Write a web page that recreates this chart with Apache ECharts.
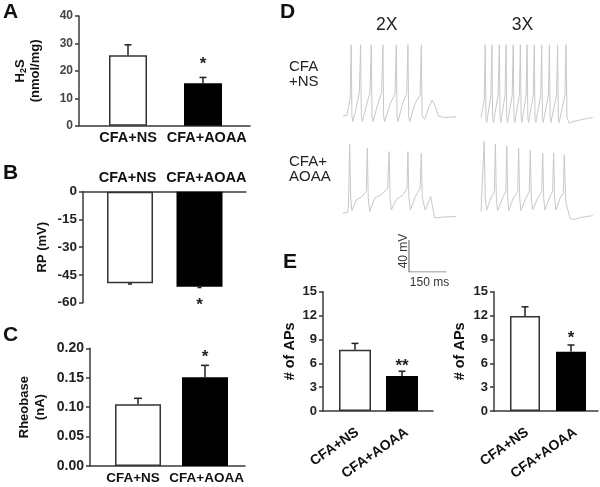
<!DOCTYPE html>
<html><head><meta charset="utf-8">
<script src="https://cdn.jsdelivr.net/npm/echarts@6/dist/echarts.min.js"></script>
<style>html,body{margin:0;padding:0;background:#fff}#c{width:600px;height:487px}</style>
</head><body><div id="c"></div>
<script>
// ---------- data ----------
const categories = ['CFA+NS', 'CFA+AOAA'];
// A: H2S (nmol/mg)
const h2sValues = [25.7, 15.5];
const h2sErrors = [3.8, 2.1];
const h2sSig = ['', '*'];
const h2sTicks = [0, 40, 10];
// B: RP (mV)
const rpValues = [-49.5, -51.4];
const rpErrors = [0.4, 0.4];
const rpSig = ['', '*'];
const rpTicks = [-60, 0, 15];
// C: Rheobase (nA)
const rheoValues = [0.105, 0.151];
const rheoErrors = [0.010, 0.020];
const rheoSig = ['', '*'];
const rheoTicks = [0, 0.2, 0.05];
// E: # of APs at 2X and 3X
const aps2xValues = [7.7, 4.4];
const aps2xErrors = [0.8, 0.6];
const aps2xSig = ['', '**'];
const aps3xValues = [11.95, 7.45];
const aps3xErrors = [1.15, 0.85];
const aps3xSig = ['', '*'];
const apsTicks = [0, 15, 3];
// D: voltage traces, [time ms, membrane potential mV]
const trace2xNS = [[0,-60],[16,-59],[22,-57],[29,-38],[33,29],[36,-60],[40,-67],[52,-52],[66,-30],[71,29],[74,-60],[78,-67],[92,-50],[109,-30],[114,29],[117,-60],[121,-67],[138,-48],[156,-30],[161,29],[164,-60],[168,-67],[190,-45],[210,-32],[215,29],[218,-60],[222,-67],[240,-45],[257,-32],[262,29],[265,-60],[269,-67],[290,-45],[311,-34],[316,29],[319,-60],[330,-64],[345,-50],[360,-40],[372,-48],[385,-60],[410,-62],[456,-61]];
const trace3xNS = [[0,-62],[8,-61],[13,-40],[17,29],[20,-62],[23,-68],[40,-34],[44,29],[47,-62],[50,-68],[69,-34],[74,29],[77,-62],[80,-68],[97,-34],[101,29],[104,-62],[107,-68],[126,-34],[130,29],[133,-62],[136,-68],[155,-34],[159,29],[162,-62],[165,-68],[182,-34],[186,29],[189,-62],[192,-68],[211,-34],[215,29],[218,-62],[221,-68],[241,-34],[245,29],[248,-62],[251,-68],[272,-34],[276,29],[279,-62],[282,-68],[305,-34],[309,29],[312,-62],[315,-68],[339,-34],[343,29],[347,-62],[356,-69],[370,-67],[400,-65],[430,-63],[451,-62]];
const trace2xAOAA = [[0,-59],[18,-58],[22,-50],[27,27],[31,-40],[36,-56],[54,-42],[74,-39],[94,-32],[98,22],[102,-40],[108,-57],[128,-40],[155,-36],[180,-28],[186,18],[190,-40],[195,-55],[215,-42],[242,-36],[258,-28],[262,18],[266,-40],[272,-55],[292,-38],[311,-28],[316,16],[320,-40],[332,-55],[354,-38],[370,-65],[397,-64],[457,-63]];
const trace3xAOAA = [[0,-57],[8,-55],[13,31],[17,-40],[23,-55],[40,-40],[54,-32],[58,27],[62,-40],[67,-56],[87,-40],[100,-32],[104,25],[108,-40],[112,-56],[130,-40],[148,-32],[152,22],[156,-40],[161,-56],[181,-40],[195,-32],[199,20],[203,-40],[208,-55],[229,-40],[245,-32],[249,16],[253,-40],[258,-55],[276,-40],[289,-32],[293,16],[297,-40],[303,-55],[319,-40],[332,-34],[336,14],[342,-45],[359,-65],[370,-67],[410,-64],[451,-62]];
const scaleBar = [[0,40],[0,0],[150,0]]; // 40 mV, 150 ms

// ---------- helpers ----------
const F = "'Liberation Sans', Arial, Helvetica, sans-serif";
const AX = '#3a3a3a';

function grid(left, top, width, height) { return {left, top, width, height, containLabel:false}; }

function xBar(g, min, max, o) {
  return {
    type:'value', gridIndex:g, min, max, position:o.position || 'bottom',
    axisLine:{show:true, onZero:false, lineStyle:{color:AX, width:1.5}},
    axisTick:{show:false}, splitLine:{show:false},
    axisLabel:{customValues:o.lp || [1,2], formatter:v => categories[Math.round(v)-1] || '',
      fontFamily:F, fontWeight:'bold', fontSize:o.fs, color:'#111', margin:o.margin, rotate:o.rotate || 0}
  };
}
function yBar(g, ticks, name, o) {
  return {
    type:'value', gridIndex:g, min:ticks[0], max:ticks[1], interval:ticks[2],
    name, nameLocation:'middle', nameGap:o.gap, nameRotate:90,
    nameTextStyle:{fontFamily:F, fontWeight:'bold', fontSize:o.nfs, color:'#111', lineHeight:o.nlh || o.nfs + 2, rich:o.rich},
    axisLine:{show:true, lineStyle:{color:AX, width:1.5}},
    axisTick:{show:true, length:4, lineStyle:{color:AX, width:1.5}},
    splitLine:{show:false},
    axisLabel:{fontFamily:F, fontWeight:'bold', fontSize:o.lfs, color:o.lc || '#222', margin:6,
      formatter:o.fmt}
  };
}
function bars(g, vals, sig, barW, pos, dist) {
  return {
    type:'bar', xAxisIndex:g, yAxisIndex:g, barWidth:barW, z:2,
    data: vals.map((v, i) => ({
      value:[i + 1, v],
      itemStyle: i === 0 ? {color:'#fff', borderColor:'#333', borderWidth:1.5}
                         : {color:'#000', borderColor:'#000', borderWidth:1.5},
      label:{show:!!sig[i], formatter:sig[i] || '', position:pos, distance:dist,
        fontFamily:F, fontWeight:'bold', fontSize:17, color:'#222'}
    }))
  };
}
function errs(g, vals, e, dir, cap) {
  return {
    type:'custom', xAxisIndex:g, yAxisIndex:g, z:3,
    data: vals.map((v, i) => [i + 1, v, v + dir * e[i]]),
    renderItem(params, api) {
      const p1 = api.coord([api.value(0), api.value(1)]);
      const p2 = api.coord([api.value(0), api.value(2)]);
      const st = {stroke:'#222', lineWidth:1.5};
      return {type:'group', children:[
        {type:'line', shape:{x1:p1[0], y1:p1[1], x2:p2[0], y2:p2[1]}, style:st},
        {type:'line', shape:{x1:p2[0]-cap, y1:p2[1], x2:p2[0]+cap, y2:p2[1]}, style:st}
      ]};
    }
  };
}
function hiddenX(g, min, max) { return {type:'value', gridIndex:g, min, max, show:false}; }
function hiddenY(g, min, max) { return {type:'value', gridIndex:g, min, max, show:false}; }
function trace(g, data, color) {
  return {type:'line', xAxisIndex:g, yAxisIndex:g, data, symbol:'none', smooth:false,
    lineStyle:{color:color, width:1}, animation:false};
}
function txt(x, y, text, o) {
  return {type:'text', x, y, rotation:o.rot || 0,
    style:{text, fontFamily:F, fontWeight:o.fw || 'normal', fontSize:o.fs, fill:o.c || '#111',
      textAlign:o.ta || 'left', textVerticalAlign:o.va || 'top', lineHeight:o.lh}};
}

// ---------- option ----------
const grids = [
  grid(79, 16, 171, 109.7),     // 0 A
  grid(83, 191.7, 163, 111),    // 1 B
  grid(90, 348.3, 155, 117.7),  // 2 C
  grid(323, 291.7, 110, 119.3), // 3 E 2X
  grid(494, 291.7, 104, 119.3), // 4 E 3X
  grid(343, 40, 114, 90),       // 5 D 2X NS
  grid(481, 40, 114, 90),       // 6 D 3X NS
  grid(343, 138, 114, 90),      // 7 D 2X AOAA
  grid(481, 138, 114, 90),      // 8 D 3X AOAA
  grid(409, 240, 37.2, 32)      // 9 scale bar
];
const TR = [-77.5, 35], TX = [0, 460];
const TC = '#c9c9c9';

const option = {
  animation:false,
  backgroundColor:'#fff',
  grid:grids,
  xAxis:[
    xBar(0, 1 - 49/75, 1 - 49/75 + 171/75, {fs:14.5, margin:5, lp:[1, 2.05]}),
    xBar(1, 1 - 47/69.5, 1 - 47/69.5 + 163/69.5, {fs:14.5, margin:6, position:'top', lp:[0.965, 2.1]}),
    xBar(2, 1 - 48/67, 1 - 48/67 + 155/67, {fs:13.5, margin:5, lp:[0.925, 2.025]}),
    xBar(3, 1 - 32/47, 1 - 32/47 + 110/47, {fs:14, margin:20, rotate:35, lp:[1.05, 2.1]}),
    xBar(4, 1 - 31/46, 1 - 31/46 + 104/46, {fs:14, margin:20, rotate:35, lp:[1.05, 2.1]}),
    hiddenX(5, TX[0], TX[1]), hiddenX(6, TX[0], TX[1]), hiddenX(7, TX[0], TX[1]), hiddenX(8, TX[0], TX[1]),
    hiddenX(9, 0, 150)
  ],
  yAxis:[
    yBar(0, h2sTicks, '{n|H}{s|2}{n|S}\n{n|(nmol/mg)}', {gap:36, nfs:13, lfs:12, lc:'#444',
      rich:{n:{fontFamily:F, fontWeight:'bold', fontSize:13, color:'#111'},
            s:{fontFamily:F, fontWeight:'bold', fontSize:9, color:'#111', padding:[7,0,0,0]}}}),
    yBar(1, rpTicks, 'RP (mV)', {gap:33, nfs:13, lfs:13.5}),
    yBar(2, rheoTicks, 'Rheobase\n(nA)', {gap:42, nfs:13, nlh:16, lfs:14, fmt:v => v.toFixed(2)}),
    yBar(3, apsTicks, '# of APs', {gap:23, nfs:14.5, lfs:13}),
    yBar(4, apsTicks, '# of APs', {gap:26, nfs:14.5, lfs:13}),
    hiddenY(5, TR[0], TR[1]), hiddenY(6, TR[0], TR[1]), hiddenY(7, TR[0], TR[1]), hiddenY(8, TR[0], TR[1]),
    hiddenY(9, 0, 40)
  ],
  series:[
    bars(0, h2sValues, h2sSig, 38, 'top', 10),
    errs(0, h2sValues, h2sErrors, 1, 3.5),
    bars(1, rpValues, rpSig, 46, 'bottom', 10),
    errs(1, rpValues, rpErrors, -1, 2),
    bars(2, rheoValues, rheoSig, 46, 'top', 11),
    errs(2, rheoValues, rheoErrors, 1, 4),
    bars(3, aps2xValues, aps2xSig, 32, 'top', 1),
    errs(3, aps2xValues, aps2xErrors, 1, 3.5),
    bars(4, aps3xValues, aps3xSig, 30, 'top', 5),
    errs(4, aps3xValues, aps3xErrors, 1, 3.5),
    trace(5, trace2xNS, TC),
    trace(6, trace3xNS, TC),
    trace(7, trace2xAOAA, TC),
    trace(8, trace3xAOAA, TC),
    {type:'line', xAxisIndex:9, yAxisIndex:9, data:scaleBar, symbol:'none', lineStyle:{color:'#777', width:1.2}}
  ],
  graphic:[
    txt(3, 2, 'A', {fs:21, fw:'bold'}),
    txt(3, 163, 'B', {fs:21, fw:'bold'}),
    txt(3, 325, 'C', {fs:21, fw:'bold'}),
    txt(280, 2, 'D', {fs:21, fw:'bold'}),
    txt(283, 252, 'E', {fs:21, fw:'bold'}),
    txt(386.7, 25, '2X', {fs:17.5, ta:'center', va:'middle', c:'#222'}),
    txt(522.5, 25, '3X', {fs:17.5, ta:'center', va:'middle', c:'#222'}),
    txt(289, 74.5, 'CFA\n+NS', {fs:15, lh:15, va:'middle', c:'#222'}),
    txt(289, 169.5, 'CFA+\nAOAA', {fs:15, lh:15, va:'middle', c:'#222'}),
    txt(403.5, 251, '40 mV', {fs:12, ta:'center', va:'middle', rot:Math.PI/2, c:'#333'}),
    txt(429.5, 283, '150 ms', {fs:12, ta:'center', va:'middle', c:'#333'})
  ]
};
const chart = echarts.init(document.getElementById('c'), null, {renderer:'canvas'});
chart.setOption(option);
</script>
</body></html>
